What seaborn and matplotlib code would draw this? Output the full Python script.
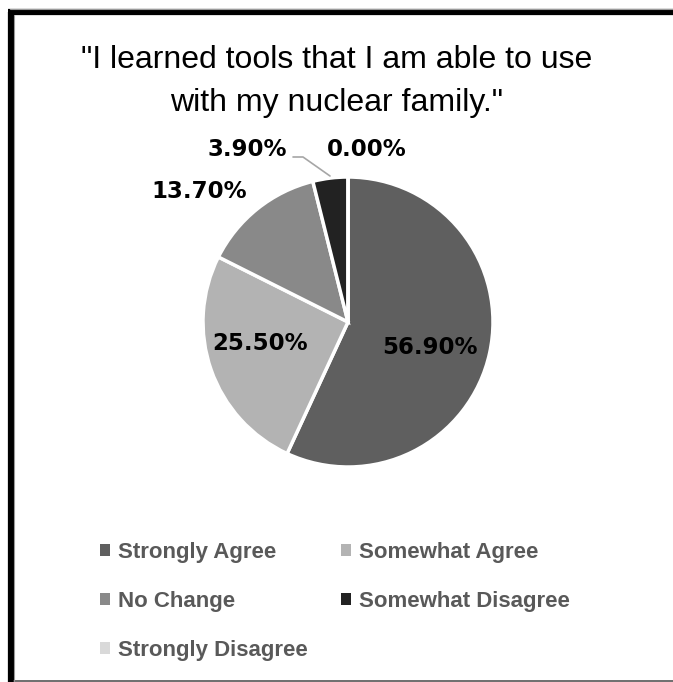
import matplotlib
matplotlib.use("Agg")
import matplotlib.pyplot as plt
from matplotlib import font_manager
from matplotlib.patches import Patch
from matplotlib.lines import Line2D
import seaborn as sns

categories = ["Strongly Agree", "Somewhat Agree", "No Change",
              "Somewhat Disagree", "Strongly Disagree"]
shares = [56.9, 25.5, 13.7, 3.9, 0.0]
colors = ["#5f5f5f", "#b3b3b3", "#898989", "#222222", "#d9d9d9"]
title_lines = ['"I learned tools that I am able to use', 'with my nuclear family."']

sns.set_theme(style="white")

installed = {f.name for f in font_manager.fontManager.ttflist}
narrow = "Liberation Sans Narrow" if "Liberation Sans Narrow" in installed else "Liberation Sans"
plt.rcParams["font.family"] = [narrow, "DejaVu Sans"]

W, H = 673, 682
fig = plt.figure(figsize=(W / 100, H / 100), dpi=100)
fig.patch.set_facecolor("white")


def px(x, y):
    return x / W, 1 - y / H


# pie axes: centre (348, 322), radius 145 px
cx, cy, r = 348, 322, 145
ax = fig.add_axes([(cx - r) / W, (H - cy - r) / H, 2 * r / W, 2 * r / H])
wedges, _ = ax.pie(shares, colors=colors, startangle=90, counterclock=False,
                   wedgeprops=dict(edgecolor="white", linewidth=2.5))
ax.set_xlim(-1, 1)
ax.set_ylim(-1, 1)
ax.set_aspect("equal")
ax.axis("off")

# data labels (pixel positions of label centres)
label_px = [(430, 348), (260, 343), (199, 191), (247, 150), (367, 150)]
for val, (lx, ly) in zip(shares, label_px):
    fx, fy = px(lx, ly)
    fig.text(fx, fy, f"{val:.2f}%", ha="center", va="center",
             fontsize=16.5, fontweight="heavy", color="black",
             family=["DejaVu Sans"])

# leader line for the small slice
lead = [(293, 157), (303, 157), (330, 176)]
fig.add_artist(Line2D([px(*p)[0] for p in lead], [px(*p)[1] for p in lead],
                      color="#a6a6a6", linewidth=1.2))

# title
fig.text(px(337, 60)[0], px(337, 60)[1], title_lines[0], ha="center", va="center",
         fontsize=23, color="black")
fig.text(px(337, 103)[0], px(337, 103)[1], title_lines[1], ha="center", va="center",
         fontsize=23, color="black")

# legend
order = [0, 2, 4, 1, 3]
handles = [Patch(facecolor=colors[i], edgecolor="none") for i in order]
labels = [categories[i] for i in order]
leg = fig.legend(handles, labels, ncol=2, loc="upper left",
                 bbox_to_anchor=px(100, 542), frameon=False,
                 borderpad=0, borderaxespad=0,
                 prop=dict(family=[narrow, "DejaVu Sans"], weight="bold", size=16),
                 labelcolor="#595959", handlelength=0.45, handleheight=0.45,
                 handletextpad=0.36, columnspacing=1.5, labelspacing=1.25)

# frame
fig.add_artist(Line2D([px(11, 0)[0], px(11, 680)[0]], [px(11, 12)[1], px(11, 682)[1]],
                      color="black", linewidth=4.5, solid_capstyle="butt"))
fig.add_artist(Line2D([px(8, 12)[0], px(673, 12)[0]], [px(8, 12)[1], px(673, 12)[1]],
                      color="black", linewidth=4.5, solid_capstyle="butt"))
fig.add_artist(Line2D([px(10, 8.5)[0], px(673, 8.5)[0]], [px(10, 8.5)[1]] * 2,
                      color="#9a9a9a", linewidth=0.8))
fig.add_artist(Line2D([px(14, 681)[0], px(673, 681)[0]], [px(14, 681)[1]] * 2,
                      color="#555555", linewidth=1.2))
fig.add_artist(Line2D([px(14, 15)[0]] * 2, [px(14, 15)[1], px(14, 681)[1]],
                      color="#9a9a9a", linewidth=0.8))

fig.savefig("out.png", dpi=100, facecolor="white")
